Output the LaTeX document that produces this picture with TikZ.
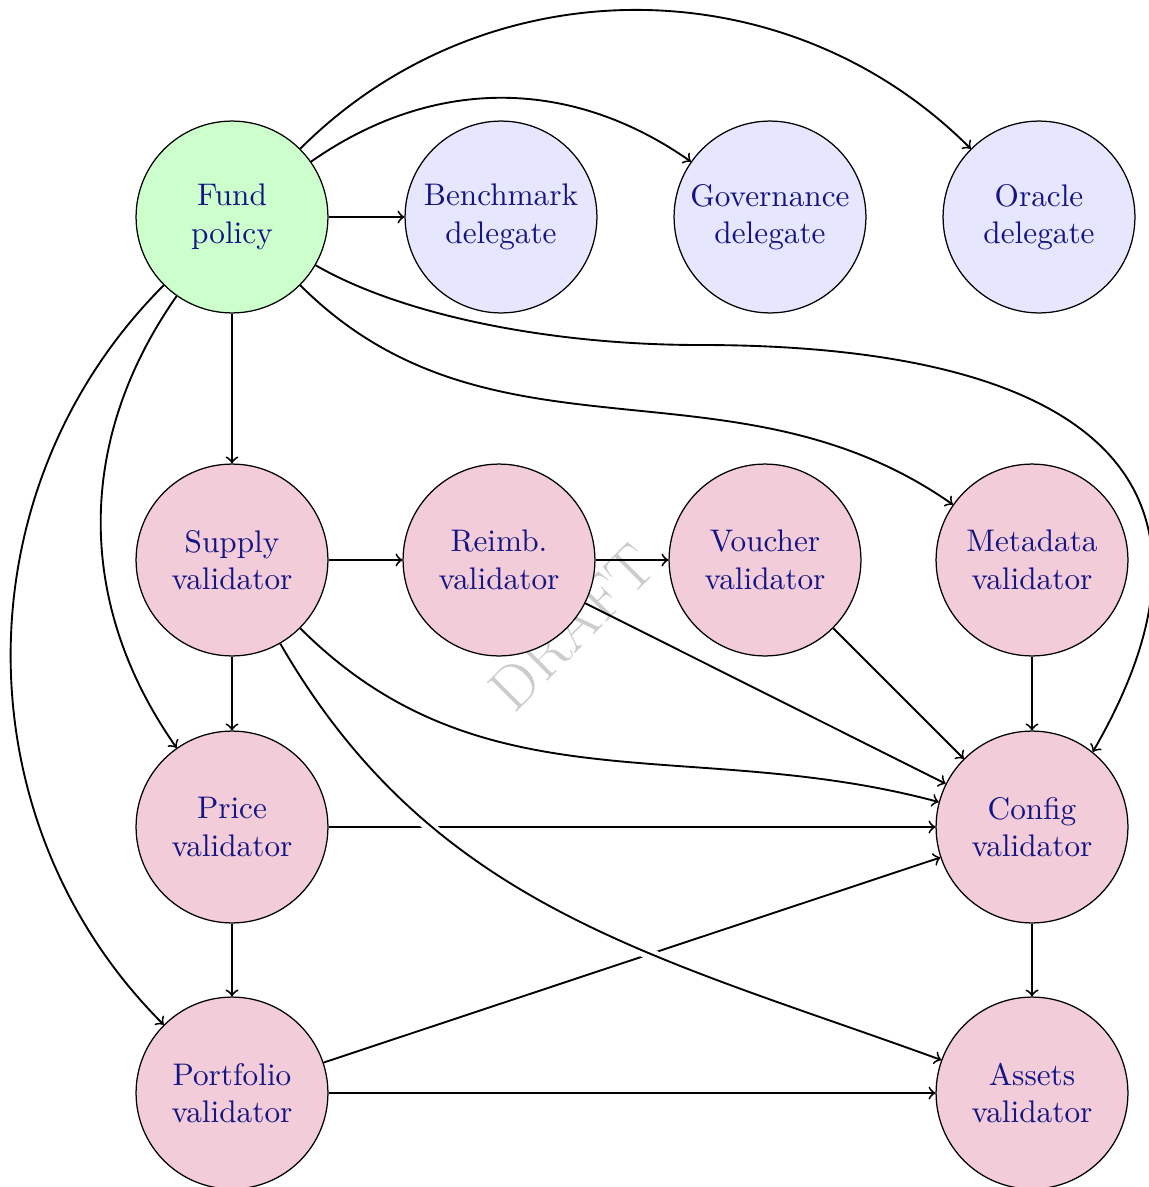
\documentclass[tikz,border=0pt]{standalone}
\definecolor{nodetext}{RGB}{20,20,130}
\definecolor{policyfill}{RGB}{204,255,204}
\definecolor{delegatefill}{RGB}{230,230,255}
\definecolor{validatorfill}{RGB}{242,204,217}
\begin{document}
\begin{tikzpicture}[x=0.32pt, y=0.32pt,
  base/.style={circle, draw=black, thin, minimum size=61.4pt, inner sep=0pt,
               align=center, text=nodetext},
  policy/.style={base, fill=policyfill},
  delegate/.style={base, fill=delegatefill},
  validator/.style={base, fill=validatorfill},
  edge/.style={->, semithick},
  halo/.style={white, line width=3.6pt, shorten <=3pt, shorten >=8pt}]
\useasboundingbox (0,0) rectangle (1148,-1187);

% watermark behind everything
\node[text=black!20, rotate=45, inner sep=0pt,
      font=\fontsize{19.5}{23}\selectfont] (wm) at (572,-627) {DRAFT};

% top row: policy and delegates
\node[policy]   (fund)   at (232,-217)  {Fund\\policy};
\node[delegate] (bench)  at (501,-217)  {Benchmark\\delegate};
\node[delegate] (gov)    at (770,-217)  {Governance\\delegate};
\node[delegate] (oracle) at (1039,-217) {Oracle\\delegate};

% validators
\node[validator] (supply)    at (232,-560)  {Supply\\validator};
\node[validator] (reimb)     at (499,-560)  {Reimb.\\validator};
\node[validator] (voucher)   at (765,-560)  {Voucher\\validator};
\node[validator] (meta)      at (1032,-560) {Metadata\\validator};
\node[validator] (price)     at (232,-827)  {Price\\validator};
\node[validator] (config)    at (1032,-827) {Config\\validator};
\node[validator] (portfolio) at (232,-1093) {Portfolio\\validator};
\node[validator] (assets)    at (1032,-1093){Assets\\validator};

\coordinate (via) at (700,-345);

% edges out of the fund policy
\draw[edge] (fund) -- (bench);
\draw[edge] (fund) to[bend left=35] (gov);
\draw[edge] (fund) to[bend left=45] (oracle);
\draw[edge] (fund) -- (supply);
\draw[edge] (fund) to[out=235, in=125] (price);
\draw[edge] (fund) to[out=225, in=135] (portfolio);
\draw[edge] (fund) to[out=-45, in=145] (meta);
\draw[edge] (fund.-30) to[out=-30, in=180, out distance=32pt, in distance=48pt] (via)
            to[out=0, in=60, out distance=121.6pt, in distance=102.4pt] (config.51);

% edges between validators
\draw[edge] (supply) -- (reimb);
\draw[edge] (reimb) -- (voucher);
\draw[edge] (supply) -- (price);
\draw[edge] (supply) to[out=-45, in=165] (config);
\draw[edge] (reimb) -- (config);
\draw[edge] (voucher) -- (config);
\draw[edge] (meta) -- (config);
\draw[edge] (price) -- (config);
\draw[edge] (price) -- (portfolio);
\draw[edge] (portfolio) -- (config);
\draw[edge] (portfolio) -- (assets);
\draw[edge] (config) -- (assets);

% long edge drawn over the others with a white gap
\draw[halo] (supply) to[out=-60, in=160] (assets);
\draw[edge] (supply) to[out=-60, in=160] (assets);
\end{tikzpicture}
\end{document}
